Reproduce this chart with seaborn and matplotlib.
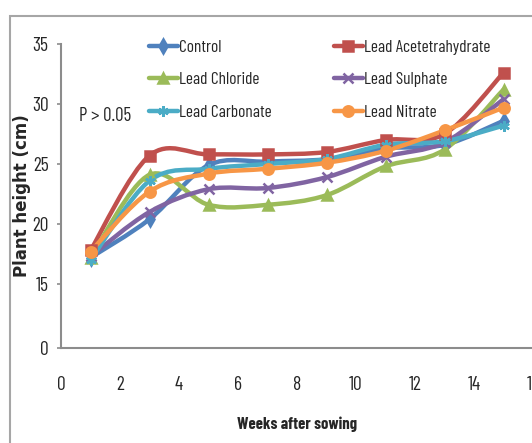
import numpy as np
import pandas as pd
import matplotlib
matplotlib.use("Agg")
import matplotlib.pyplot as plt
import seaborn as sns
from matplotlib.path import Path
from matplotlib.patches import PathPatch, Rectangle
from matplotlib.lines import Line2D

# ---------------- data ----------------
weeks = [1, 3, 5, 7, 9, 11, 13, 15]
control = [17.2, 20.4, 24.9, 25.2, 25.4, 26.3, 26.6, 28.6]
lead_acetetrahydrate = [17.8, 25.7, 25.8, 25.8, 26.0, 27.0, 27.5, 32.6]
lead_chloride = [17.2, 24.1, 21.6, 21.6, 22.4, 24.8, 26.2, 31.2]
lead_sulphate = [17.3, 21.0, 22.9, 23.0, 23.9, 25.6, 26.8, 30.4]
lead_carbonate = [17.0, 23.6, 24.6, 25.0, 25.4, 26.6, 26.9, 28.2]
lead_nitrate = [17.7, 22.7, 24.2, 24.6, 25.1, 26.1, 27.8, 29.7]

series_names = ["Control", "Lead Acetetrahydrate", "Lead Chloride",
                "Lead Sulphate", "Lead Carbonate", "Lead Nitrate"]
series_values = [control, lead_acetetrahydrate, lead_chloride,
                 lead_sulphate, lead_carbonate, lead_nitrate]
yticks = [0, 15, 20, 25, 30, 35]
xticks = [0, 2, 4, 6, 8, 10, 12, 14, 16]

colors = {"Control": "#4F81BD", "Lead Acetetrahydrate": "#C0504D",
          "Lead Chloride": "#9BBB59", "Lead Sulphate": "#8064A2",
          "Lead Carbonate": "#4BACC6", "Lead Nitrate": "#F79646"}
markers = {"Control": "d", "Lead Acetetrahydrate": "s",
           "Lead Chloride": "^", "Lead Sulphate": "x",
           "Lead Carbonate": (6, 2, 0), "Lead Nitrate": "o"}

df = pd.DataFrame([(n, w, v) for n, vals in zip(series_names, series_values)
                   for w, v in zip(weeks, vals)],
                  columns=["series", "week", "height"])

# ---------------- style ----------------
sns.set_style("white")
NARROW = ["Barlow Condensed", "Liberation Sans Narrow", "DejaVu Sans"]
plt.rcParams["font.family"] = NARROW

W, H = 532, 443
fig = plt.figure(figsize=(W / 100, H / 100), dpi=100)
ax = fig.add_axes([61 / W, (H - 348) / H, (533 - 61) / W, (348 - 44) / H])


# value axis: 0..15 compressed, 15..35 linear
def fwd(v):
    v = np.asarray(v, dtype=float)
    return np.where(v < 15, v * 64.0 / 15.0, 64.0 + (v - 15.0) * 12.0)


def inv(p):
    p = np.asarray(p, dtype=float)
    return np.where(p < 64, p * 15.0 / 64.0, 15.0 + (p - 64.0) / 12.0)


ax.set_yscale("function", functions=(fwd, inv))
ax.set_ylim(0, 35)
ax.set_xlim(0, 16)


def smooth_path(xs, ys):
    pts = np.column_stack([xs, ys]).astype(float)
    n = len(pts)
    verts = [pts[0]]
    codes = [Path.MOVETO]
    for i in range(n - 1):
        p0 = pts[max(i - 1, 0)]
        p1 = pts[i]
        p2 = pts[i + 1]
        p3 = pts[min(i + 2, n - 1)]
        verts += [p1 + (p2 - p0) / 6.0, p2 - (p3 - p1) / 6.0, p2]
        codes += [Path.CURVE4] * 3
    return Path(verts, codes)


LW = 3.2
MS = 7.5
for k, name in enumerate(series_names):
    sub = df[df.series == name]
    patch = PathPatch(smooth_path(sub.week.values, sub.height.values),
                      facecolor="none", edgecolor=colors[name], lw=LW,
                      zorder=2 + k * 0.1, capstyle="round", joinstyle="round")
    ax.add_patch(patch)
    sns.lineplot(data=sub, x="week", y="height", color=colors[name],
                 marker=markers[name], markersize=MS, linewidth=0,
                 markeredgecolor=colors[name], markerfacecolor=colors[name],
                 markeredgewidth=1.8, legend=False, ax=ax,
                 zorder=3 + k * 0.1)

# axes cosmetics
for s in ["top", "right"]:
    ax.spines[s].set_visible(False)
for s in ["left", "bottom"]:
    ax.spines[s].set_color("#8c8c8c")
    ax.spines[s].set_linewidth(1.5)
ax.set_yticks(yticks)
ax.set_xticks(xticks)
ax.tick_params(axis="y", length=3, width=1.2, color="#8c8c8c", pad=6,
               labelsize=14, left=True, direction="out")
ax.tick_params(axis="x", length=0, pad=20, labelsize=14)
ax.set_xlabel("Weeks after sowing", fontsize=12, fontweight="bold")
ax.xaxis.set_label_coords(0.5, -0.225)
ax.set_ylabel("Plant height (cm)", fontsize=12, fontweight="bold",
              family=["DejaVu Sans"])
ax.yaxis.set_label_coords(-0.064, 0.5)

ax.text(0.038, 0.763, "P > 0.05", transform=ax.transAxes, fontsize=13.5,
        va="center", ha="left")


def handle(name):
    return Line2D([], [], color=colors[name], lw=LW, marker=markers[name],
                  markersize=MS, markeredgecolor=colors[name],
                  markerfacecolor=colors[name], markeredgewidth=1.8)


col1 = ["Control", "Lead Chloride", "Lead Carbonate"]
col2 = ["Lead Acetetrahydrate", "Lead Sulphate", "Lead Nitrate"]
leg_kw = dict(loc="upper left", frameon=False, borderpad=0, borderaxespad=0,
              handlelength=1.65, handletextpad=0.1, labelspacing=0.99,
              fontsize=12.5, bbox_transform=fig.transFigure)
leg1 = ax.legend([handle(n) for n in col1], col1,
                 bbox_to_anchor=(149 / W, 1 - 40 / H), **leg_kw)
ax.add_artist(leg1)
leg2 = ax.legend([handle(n) for n in col2], col2,
                 bbox_to_anchor=(334 / W, 1 - 40 / H), **leg_kw)

# outer chart border (cropped on the right and bottom)
fig.patches.append(Rectangle((10 / W, -0.2), 1.3, 1 - 16 / H + 0.2,
                             transform=fig.transFigure, fill=False,
                             edgecolor="#a6a6a6", lw=1.5))

fig.savefig("out.png", dpi=100)
